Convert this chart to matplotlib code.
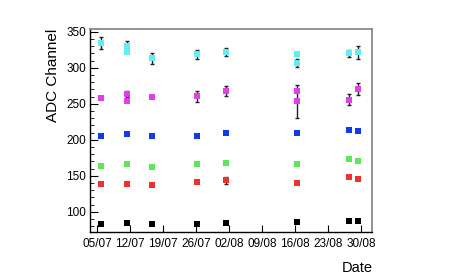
import numpy as np
import pandas as pd
import matplotlib
matplotlib.use("Agg")
import matplotlib.pyplot as plt
import matplotlib.dates as mdates
from matplotlib.ticker import MultipleLocator

plt.rcParams['font.family'] = ['Liberation Sans', 'DejaVu Sans']

# measurement dates (day/month with time of day)
dates = pd.to_datetime(['2015-07-05 17:00', '2015-07-11 09:00', '2015-07-16 16:00',
                        '2015-07-26 06:00', '2015-08-01 08:00', '2015-08-16 08:00',
                        '2015-08-27 11:00', '2015-08-29 07:00'])

# cyan and magenta have two points on 11/07 and 16/08
cyan_idx = [0, 1, 1, 2, 3, 4, 5, 5, 6, 7]
cyan_val = [334.7, 330.6, 321.4, 313.0, 319.0, 321.8, 318.6, 306.5, 320.0, 321.4]
cyan_err = [7.9, 6.5, 0, 8.3, 6.2, 5.3, 0, 6.0, 5.0, 8.8]

mag_idx = [0, 1, 1, 2, 3, 4, 5, 5, 6, 7]
mag_val = [257.5, 263.5, 253.8, 259.7, 260.7, 267.6, 267.2, 253.8, 256.0, 270.4]
mag_err = [0, 4.4, 0, 0, 7.6, 7.0, 0, 23.0, 7.4, 8.8]

blue_val = [205.0, 207.5, 205.6, 205.6, 208.9, 209.3, 213.5, 212.5]
green_val = [163.9, 165.8, 162.5, 165.8, 167.6, 167.1, 174.0, 170.8]
red_val = [138.5, 138.9, 137.0, 141.7, 144.0, 139.9, 147.8, 145.4]
red_err = [0, 0, 0, 0, 5.0, 0, 0, 0]
black_val = [83.0, 84.3, 82.5, 83.3, 84.3, 85.3, 86.6, 86.6]

tick_dates = pd.date_range('2015-07-05', '2015-08-30', freq='7D')

fig = plt.figure(figsize=(4.52, 2.80), dpi=100)
ax = fig.add_axes([0.199, 0.170, 0.625, 0.726])

series = [
    (dates[cyan_idx], cyan_val, cyan_err, '#62eef0'),
    (dates[mag_idx], mag_val, mag_err, '#e040e8'),
    (dates, blue_val, None, '#1438f0'),
    (dates, green_val, None, '#5ee65a'),
    (dates, red_val, red_err, '#ee3030'),
    (dates, black_val, None, 'black'),
]

for x, y, err, col in series:
    if err is not None:
        ax.errorbar(x, y, yerr=err, fmt='none', ecolor='#222222',
                    elinewidth=1.0, capsize=1.2, capthick=1.0, zorder=2)
    ax.plot(x, y, 's', color=col, markersize=3.8, markeredgewidth=0, zorder=3)

ax.set_xlim(pd.Timestamp('2015-07-05') - pd.Timedelta(days=1.55),
            pd.Timestamp('2015-07-05') + pd.Timedelta(days=58.45))
ax.set_ylim(71.4, 353.8)

ax.set_xticks(tick_dates)
ax.xaxis.set_major_formatter(mdates.DateFormatter('%d/%m'))
ax.yaxis.set_major_locator(MultipleLocator(50))
ax.yaxis.set_minor_locator(MultipleLocator(10))

ax.tick_params(axis='both', which='both', direction='in', top=False, right=False,
               labelsize=8.5)
ax.tick_params(axis='y', which='major', length=6, pad=3)
ax.tick_params(axis='y', which='minor', length=3)
ax.tick_params(axis='x', which='major', length=5, pad=4)

for s in ['top', 'right']:
    ax.spines[s].set_color('#888888')
    ax.spines[s].set_linewidth(1.3)
for s in ['left', 'bottom']:
    ax.spines[s].set_linewidth(1.0)

ax.set_ylabel('ADC Channel', fontsize=11, loc='top', labelpad=4)
ax.set_xlabel('Date', fontsize=10.5, loc='right', labelpad=8)

fig.savefig('out.png', dpi=100)
